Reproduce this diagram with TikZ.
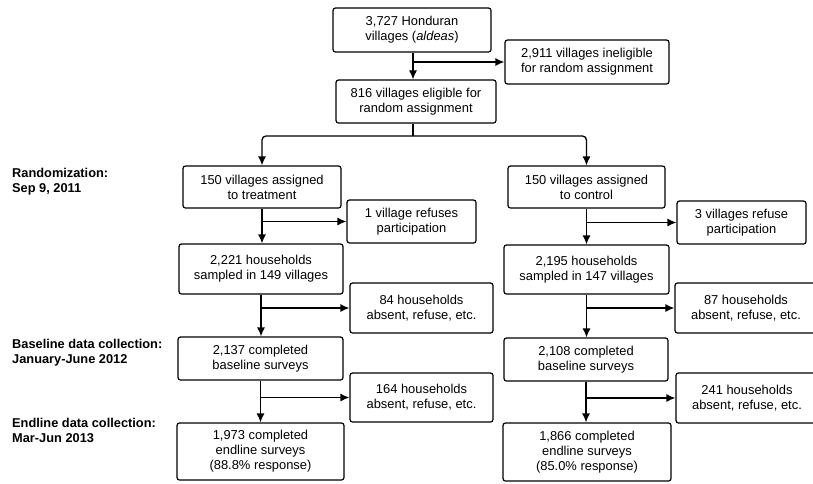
\documentclass[tikz,border=0pt]{standalone}
\usepackage{fontspec}
\setmainfont{Liberation Sans}
\usetikzlibrary{arrows.meta}
\tikzset{
  box/.style={draw, rounded corners=2.5pt, line width=1.2pt, align=center, inner sep=0pt,
    font=\fontsize{12.9}{15}\selectfont},
  lbl/.style={anchor=north west, align=left, inner sep=0pt, font=\fontsize{12.8}{15}\selectfont\bfseries},
  flow/.style={-{Latex[length=9pt,width=8pt]}, line width=1.3pt}
}
\begin{document}
\begin{tikzpicture}[x=1pt,y=-1pt]
            \useasboundingbox (0,0) rectangle (813,483);
            % top of the flow
            \node[box, minimum width=158pt, minimum height=44pt] (all) at (412,30) {3,727 Honduran\\villages (\textit{aldeas})};
            \node[box, minimum width=164pt, minimum height=44pt] (inelig) at (587,62) {2,911 villages ineligible\\for random assignment};
            \node[box, minimum width=160pt, minimum height=43pt] (elig) at (416,101.5) {816 villages eligible for\\random assignment};
            \coordinate (split) at (413,136);
            % treatment arm
            \node[box, minimum width=158pt, minimum height=42pt] (trt) at (262,187) {150 villages assigned\\to treatment};
            \node[box, minimum width=129pt, minimum height=43pt] (trtref) at (411.5,221.5) {1 village refuses\\participation};
            \node[box, minimum width=164pt, minimum height=50pt] (trthh) at (261,269) {2,221 households\\sampled in 149 villages};
            \node[box, minimum width=143pt, minimum height=50pt] (trtabsa) at (421.5,308) {84 households\\absent, refuse, etc.};
            \node[box, minimum width=165pt, minimum height=43pt] (trtbase) at (260.5,358.5) {2,137 completed\\baseline surveys};
            \node[box, minimum width=143pt, minimum height=49pt] (trtabsb) at (421.5,397.5) {164 households\\absent, refuse, etc.};
            \node[box, minimum width=167pt, minimum height=57pt] (trtend) at (260.5,451.5) {1,973 completed\\endline surveys\\(88.8\% response)};
            % control arm
            \node[box, minimum width=157pt, minimum height=42pt] (ctl) at (586.5,187) {150 villages assigned\\to control};
            \node[box, minimum width=129pt, minimum height=43pt] (ctlref) at (741.5,222.5) {3 villages refuse\\participation};
            \node[box, minimum width=165pt, minimum height=49pt] (ctlhh) at (586.5,269.5) {2,195 households\\sampled in 147 villages};
            \node[box, minimum width=142pt, minimum height=50pt] (ctlabsa) at (746,308) {87 households\\absent, refuse, etc.};
            \node[box, minimum width=164pt, minimum height=43pt] (ctlbase) at (586,359.5) {2,108 completed\\baseline surveys};
            \node[box, minimum width=142pt, minimum height=50pt] (ctlabsb) at (747,398) {241 households\\absent, refuse, etc.};
            \node[box, minimum width=168pt, minimum height=58pt] (ctlend) at (587,452) {1,866 completed\\endline surveys\\(85.0\% response)};
            % stage labels
            \node[lbl] (rand) at (12,168) {Randomization:\\Sep 9, 2011};
            \node[lbl] (base) at (12,339) {Baseline data collection:\\January-June 2012};
            \node[lbl] (endl) at (12,418) {Endline data collection:\\Mar-Jun 2013};
            % connectors
            \draw[flow] (all.south -| 413,0) -- (413,0 |- elig.north);
            \draw[flow] (413,62) -- (inelig.west);
            \draw[line width=1.3pt] (413,0 |- elig.south) -- (split);
            \draw[flow, rounded corners=4pt] (split) -| (trt.north);
            \draw[flow, rounded corners=4pt] (split) -| (ctl.north);
            \foreach \a/\b/\s in {trt/trthh/trtref, trthh/trtbase/trtabsa, trtbase/trtend/trtabsb,
                                  ctl/ctlhh/ctlref, ctlhh/ctlbase/ctlabsa, ctlbase/ctlend/ctlabsb} {
              \draw[flow] (\a.south) -- (\a.south |- \b.north);
              \draw[flow] (\a.south |- \s.west) -- (\s.west);
            }
        \end{tikzpicture}
\end{document}
